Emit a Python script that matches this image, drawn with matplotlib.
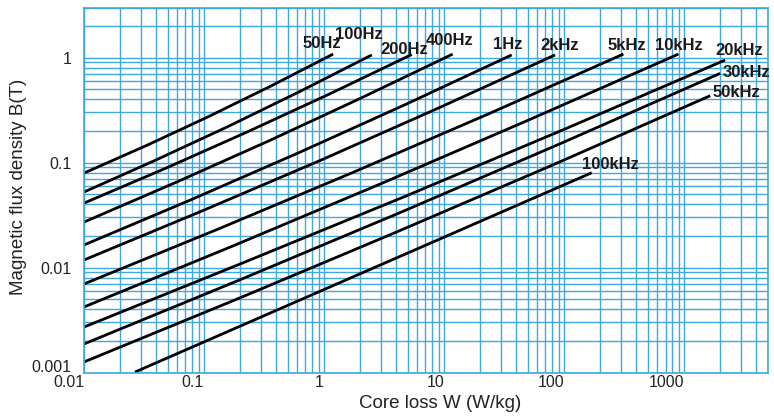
import matplotlib
matplotlib.use("Agg")
import matplotlib.pyplot as plt
from matplotlib.ticker import LogLocator, FixedLocator, FixedFormatter, NullFormatter

# ---- data ----
labels = ["50Hz", "100Hz", "200Hz", "400Hz", "1Hz", "2kHz", "5kHz",
          "10kHz", "20kHz", "30kHz", "50kHz", "100kHz"]

w_50 = [0.01, 0.0330, 0.109, 0.360, 1.19]
b_50 = [0.0794, 0.145, 0.274, 0.535, 1.08]
w_100 = [0.01, 0.0397, 0.158, 0.628, 2.50]
b_100 = [0.0524, 0.1057, 0.220, 0.475, 1.06]
w_200 = [0.01, 0.0482, 0.232, 1.12, 5.38]
b_200 = [0.0411, 0.0885, 0.197, 0.452, 1.07]
w_400 = [0.01, 0.0586, 0.343, 2.01, 11.8]
b_400 = [0.0271, 0.0649, 0.160, 0.409, 1.08]
w_1k = [0.01, 0.0778, 0.605, 4.71, 36.6]
b_1k = [0.0164, 0.0442, 0.123, 0.355, 1.06]
w_2k = [0.01, 0.0957, 0.917, 8.79, 84.1]
b_2k = [0.0118, 0.0345, 0.104, 0.327, 1.06]
w_5k = [0.01, 0.133, 1.77, 23.5, 312]
b_5k = [0.00697, 0.0234, 0.0812, 0.291, 1.08]
w_10k = [0.01, 0.173, 3.00, 51.8, 897]
b_10k = [0.00421, 0.0160, 0.0631, 0.257, 1.08]
w_20k = [0.01, 0.216, 4.69, 101, 2196]
b_20k = [0.00271, 0.0112, 0.0474, 0.208, 0.947]
w_30k = [0.01, 0.211, 4.47, 94.4, 1995]
b_30k = [0.00187, 0.00785, 0.034, 0.1525, 0.707]
w_50k = [0.01, 0.201, 4.06, 81.7, 1648]
b_50k = [0.00126, 0.00516, 0.0219, 0.0956, 0.433]
w_100k = [0.0266, 2.13, 170]
b_100k = [0.00101, 0.0090, 0.080]

series_w = [w_50, w_100, w_200, w_400, w_1k, w_2k, w_5k, w_10k, w_20k, w_30k, w_50k, w_100k]
series_b = [b_50, b_100, b_200, b_400, b_1k, b_2k, b_5k, b_10k, b_20k, b_30k, b_50k, b_100k]

x_ticks = [0.01, 0.1, 1, 10, 100, 1000]
x_ticklabels = ["0.01", "0.1", "1", "10", "100", "1000"]
y_ticks = [0.001, 0.01, 0.1, 1]
y_ticklabels = ["0.001", "0.01", "0.1", "1"]

# label positions in axes fraction (layout)
label_pos = [(0.348, 0.900), (0.402, 0.925), (0.468, 0.885), (0.535, 0.910),
             (0.620, 0.898), (0.696, 0.895), (0.794, 0.895), (0.870, 0.895),
             (0.958, 0.882), (0.969, 0.821), (0.954, 0.766), (0.769, 0.569)]

plt.rcParams['font.family'] = ['Liberation Sans', 'DejaVu Sans']

W, H = 774, 416
fig = plt.figure(figsize=(W / 100, H / 100), dpi=100)
ax = fig.add_axes([84 / W, 1 - 372.5 / H, (768 - 84) / W, (372.5 - 7.5) / H])

grid_c = "#3fa8dc"
ax.set_xscale("log")
ax.set_yscale("log")
ax.set_xlim(0.01, 5000)
ax.set_ylim(0.001, 3)

ax.xaxis.set_minor_locator(LogLocator(base=10, subs=range(2, 10), numticks=20))
ax.yaxis.set_minor_locator(LogLocator(base=10, subs=range(2, 10), numticks=20))
ax.xaxis.set_minor_formatter(NullFormatter())
ax.yaxis.set_minor_formatter(NullFormatter())
ax.xaxis.set_major_locator(FixedLocator(x_ticks))
ax.xaxis.set_major_formatter(FixedFormatter(x_ticklabels))
ax.yaxis.set_major_locator(FixedLocator(y_ticks))
ax.yaxis.set_major_formatter(FixedFormatter(y_ticklabels))
ax.grid(True, which="both", color=grid_c, lw=1.0)
ax.set_axisbelow(True)
ax.tick_params(which="both", length=0)
ax.tick_params(axis="x", pad=2, labelsize=11.5, labelcolor="#222222")
ax.tick_params(axis="y", pad=9, labelsize=11.5, labelcolor="#222222")
for lab in ax.get_xticklabels():
    lab.set_horizontalalignment("right")
for lab in ax.get_yticklabels():
    if lab.get_text() == "0.001":
        lab.set_verticalalignment("baseline")
for sp in ax.spines.values():
    sp.set_color(grid_c)
    sp.set_linewidth(1.2)

for w, b in zip(series_w, series_b):
    ax.plot(w, b, color="black", lw=2.0, solid_capstyle="butt")

for name, (px, py) in zip(labels, label_pos):
    ax.text(px, py, name, transform=ax.transAxes, ha="center", va="center",
            fontsize=12, fontweight="bold", color="#1a1a1a", clip_on=False)

fig.text(19 / W, 1 - 187 / H, "Magnetic flux density B(T)", rotation=90,
         ha="center", va="center", fontsize=13.5, color="#222222")
fig.text(440 / W, 1 - 403 / H, "Core loss W (W/kg)", ha="center", va="center",
         fontsize=13.5, color="#222222")

fig.savefig("out.png", dpi=100)
